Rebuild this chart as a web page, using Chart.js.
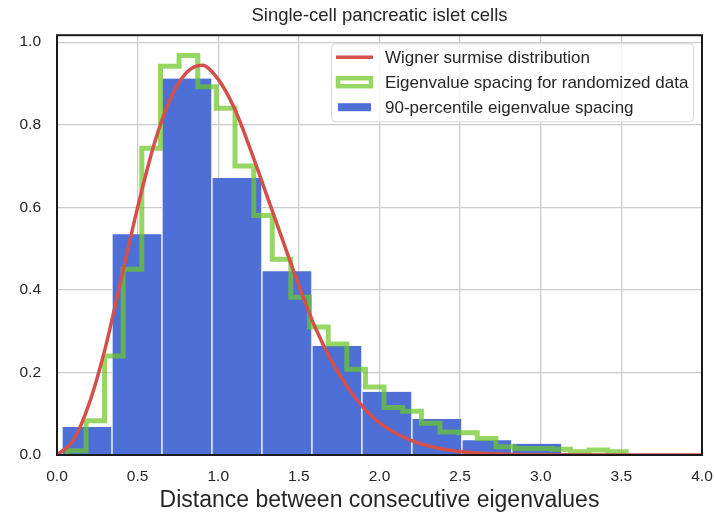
<!DOCTYPE html>
<html>
<head>
<meta charset="utf-8">
<script src="https://cdn.jsdelivr.net/npm/chart.js@4.4.1/dist/chart.umd.min.js"></script>
<style>
  html, body { margin: 0; padding: 0; background: #fff; }
</style>
</head>
<body>
<canvas id="graph" width="714" height="516"></canvas>
<script>
// Histogramme bleu (90-percentile) : bords des classes et hauteurs
const blueEdges = [0.031, 0.341, 0.651, 0.961, 1.271, 1.581, 1.891, 2.201, 2.511, 2.821, 3.131];
const blueHeights = [0.068, 0.535, 0.912, 0.671, 0.445, 0.264, 0.153, 0.087, 0.036, 0.027];

// Histogramme vert (données randomisées), tracé en escalier
const greenEdges = [0.064, 0.18, 0.295, 0.41, 0.526, 0.642, 0.757, 0.873, 0.988, 1.104,
                    1.22, 1.335, 1.45, 1.566, 1.682, 1.797, 1.913, 2.028, 2.144, 2.26,
                    2.375, 2.49, 2.606, 2.722, 2.837, 2.953, 3.068, 3.184, 3.3, 3.415, 3.53];
const greenHeights = [0.01, 0.083, 0.24, 0.45, 0.743, 0.942, 0.968, 0.892, 0.84, 0.70,
                      0.58, 0.474, 0.382, 0.31, 0.269, 0.208, 0.165, 0.115, 0.106, 0.077,
                      0.056, 0.054, 0.04, 0.02, 0.016, 0.016, 0.014, 0.008, 0.012, 0.008];

// Courbe de Wigner
const wignerX = [0, 0.1, 0.2, 0.3, 0.4, 0.5, 0.6, 0.7, 0.8, 0.9, 1.0, 1.1, 1.2, 1.3, 1.4,
                 1.5, 1.6, 1.7, 1.8, 1.9, 2.0, 2.2, 2.4, 2.6, 2.8, 3.0, 3.5, 4.0];
const wignerY = [0, 0.035, 0.125, 0.26, 0.43, 0.60, 0.75, 0.86, 0.925, 0.944, 0.91, 0.84, 0.74, 0.63, 0.52,
                 0.41, 0.31, 0.23, 0.165, 0.115, 0.078, 0.035, 0.014, 0.005, 0.002, 0.0005, 0, 0];

const xTicks = [0, 0.5, 1.0, 1.5, 2.0, 2.5, 3.0, 3.5, 4.0];
const yTicks = [0, 0.2, 0.4, 0.6, 0.8, 1.0];

const labels = ['Wigner surmise distribution', 'Eigenvalue spacing for randomized data', '90-percentile eigenvalue spacing'];
const colors = { red: '#d4504a', green: 'rgba(110,200,40,0.72)', blue: '#4e6fd6' };

Chart.defaults.font.family = '"Liberation Sans", Arial, sans-serif';
Chart.defaults.color = '#262626';

// Points du graphique
const blueData = blueHeights.map((h, i) => ({ x: (blueEdges[i] + blueEdges[i + 1]) / 2, y: h }));
const greenData = [{ x: greenEdges[0], y: 0 }];
greenHeights.forEach((h, i) => {
    greenData.push({ x: greenEdges[i], y: h });
    greenData.push({ x: greenEdges[i + 1], y: h });
});
greenData.push({ x: greenEdges[greenEdges.length - 1], y: 0 });
const wignerData = wignerX.map((x, i) => ({ x: x, y: wignerY[i] }));

// Cadre noir autour de la zone du graphique
const framePlugin = {
    id: 'frame',
    afterDatasetsDraw(chart) {
        const { ctx, chartArea: a } = chart;
        ctx.save();
        ctx.strokeStyle = '#1a1a1a';
        ctx.lineWidth = 2;
        ctx.strokeRect(a.left, a.top, a.right - a.left, a.bottom - a.top);
        ctx.restore();
    }
};

// Légende dessinée dans le coin supérieur droit
const legendPlugin = {
    id: 'legendBox',
    afterDraw(chart) {
        const { ctx, chartArea: a } = chart;
        const ds = chart.data.datasets;
        const x0 = a.right - 371, y0 = a.top + 8, w = 362, h = 78;
        ctx.save();
        ctx.fillStyle = 'rgba(255,255,255,0.8)';
        ctx.strokeStyle = '#d9d9d9';
        ctx.lineWidth = 1;
        ctx.beginPath();
        ctx.roundRect(x0 + 0.5, y0 + 0.5, w, h, 4);
        ctx.fill();
        ctx.stroke();

        const rows = [y0 + 14, y0 + 39, y0 + 64];
        // ligne rouge
        ctx.strokeStyle = colors.red;
        ctx.lineWidth = 3.5;
        ctx.beginPath();
        ctx.moveTo(x0 + 5, rows[0]);
        ctx.lineTo(x0 + 42, rows[0]);
        ctx.stroke();
        // rectangle vert vide
        ctx.strokeStyle = colors.green;
        ctx.lineWidth = 4.5;
        ctx.strokeRect(x0 + 7, rows[1] - 4, 33, 8);
        // rectangle bleu plein
        ctx.fillStyle = colors.blue;
        ctx.fillRect(x0 + 7, rows[2] - 4, 33, 8);

        ctx.fillStyle = '#262626';
        ctx.font = '17px "Liberation Sans", Arial, sans-serif';
        ctx.textBaseline = 'middle';
        ds.forEach((d, i) => ctx.fillText(d.label, x0 + 54, rows[i] + 1));
        ctx.restore();
    }
};

const ctx = document.getElementById('graph').getContext('2d');
new Chart(ctx, {
    type: 'line',
    data: {
        datasets: [
            {
                type: 'line',
                label: labels[0],
                data: wignerData,
                borderColor: colors.red,
                borderWidth: 3.5,
                pointRadius: 0,
                fill: false,
                cubicInterpolationMode: 'monotone'
            },
            {
                type: 'line',
                label: labels[1],
                data: greenData,
                borderColor: colors.green,
                borderWidth: 5,
                borderJoinStyle: 'miter',
                pointRadius: 0,
                fill: false,
                tension: 0
            },
            {
                type: 'bar',
                label: labels[2],
                data: blueData,
                backgroundColor: colors.blue,
                borderColor: '#ffffff',
                borderWidth: { left: 1, right: 1, top: 0, bottom: 0 },
                borderSkipped: false,
                barPercentage: 1,
                categoryPercentage: 1
            }
        ]
    },
    options: {
        responsive: false,
        animation: false,
        layout: { padding: { left: 0, right: 0, top: 0, bottom: 0 } },
        plugins: {
            legend: { display: false },
            tooltip: { enabled: false },
            title: {
                display: true,
                fullSize: false,
                text: 'Single-cell pancreatic islet cells',
                font: { size: 18.5, weight: 'normal' },
                color: '#262626',
                padding: { top: 5, bottom: 8 }
            }
        },
        scales: {
            x: {
                type: 'linear',
                min: 0,
                max: 4,
                offset: false,
                afterBuildTicks: s => { s.ticks = xTicks.map(v => ({ value: v })); },
                afterFit: s => { s.height = 61; s.paddingLeft = 0; s.paddingRight = 12; },
                grid: { color: '#cccccc', lineWidth: 1.3, drawTicks: false, offset: false },
                border: { display: false },
                ticks: {
                    padding: 12,
                    font: { size: 15.5 },
                    maxRotation: 0,
                    autoSkip: false,
                    callback: v => Number(v).toFixed(1)
                },
                title: {
                    display: true,
                    text: 'Distance between consecutive eigenvalues',
                    font: { size: 23 },
                    padding: { top: 0, bottom: 2 }
                }
            },
            y: {
                type: 'linear',
                min: 0,
                max: 1.017,
                afterBuildTicks: s => { s.ticks = yTicks.map(v => ({ value: v })); },
                afterFit: s => { s.width = 57; },
                grid: { color: '#cccccc', lineWidth: 1.3, drawTicks: false },
                border: { display: false },
                ticks: {
                    padding: 16,
                    font: { size: 15.5 },
                    callback: v => Number(v).toFixed(1)
                }
            }
        }
    },
    plugins: [framePlugin, legendPlugin]
});
</script>
</body>
</html>
